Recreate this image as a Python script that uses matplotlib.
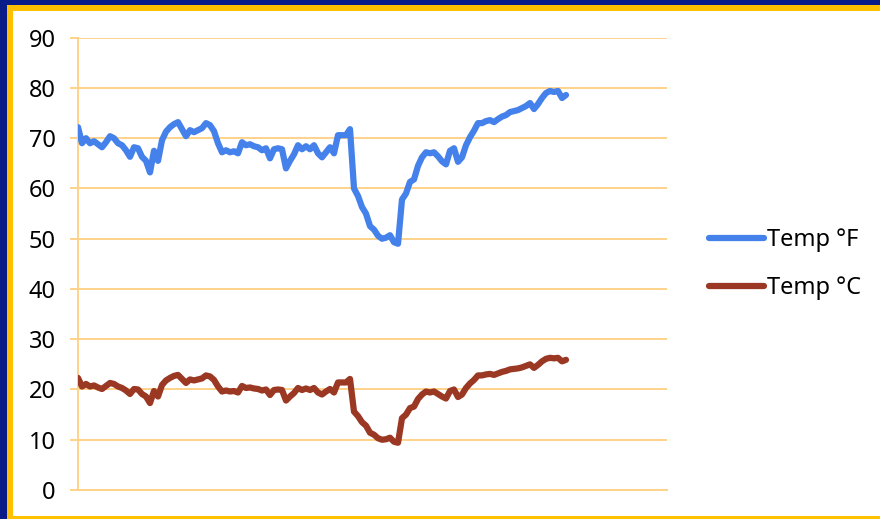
import matplotlib.pyplot as plt
from matplotlib.patches import Rectangle

# readings, one every few minutes
temp_f = [
    72.2, 69.0, 70.0, 69.0, 69.4, 68.8, 68.2, 69.2, 70.4, 70.0,
    69.0, 68.6, 67.6, 66.3, 68.2, 68.0, 66.3, 65.5, 63.2, 67.5,
    65.5, 69.6, 71.3, 72.2, 72.8, 73.2, 71.8, 70.4, 71.6, 71.2,
    71.6, 72.0, 73.0, 72.6, 71.4, 69.0, 67.2, 67.6, 67.2, 67.4,
    67.0, 69.2, 68.6, 68.8, 68.4, 68.2, 67.6, 68.0, 66.0, 67.8,
    68.0, 67.8, 64.0, 65.5, 66.8, 68.6, 67.8, 68.4, 67.8, 68.6,
    67.0, 66.2, 67.2, 68.2, 67.0, 70.6, 70.6, 70.6, 71.8, 60.0,
    58.5, 56.3, 55.0, 52.5, 51.8, 50.6, 50.0, 50.2, 50.7, 49.3,
    49.0, 57.8, 59.0, 61.3, 61.8, 64.5, 66.2, 67.2, 67.0, 67.2,
    66.4, 65.4, 64.8, 67.5, 68.0, 65.3, 66.2, 68.6, 70.2, 71.5,
    73.0, 73.0, 73.4, 73.6, 73.2, 73.8, 74.3, 74.6, 75.2, 75.4,
    75.6, 76.0, 76.4, 77.0, 75.8, 76.8, 78.0, 79.0, 79.4, 79.2,
    79.4, 78.0, 78.6,
]
temp_c = [
    22.3, 20.6, 21.1, 20.6, 20.8, 20.4, 20.1, 20.7, 21.3, 21.1,
    20.6, 20.3, 19.8, 19.1, 20.1, 20.0, 19.1, 18.6, 17.3, 19.7,
    18.6, 20.9, 21.8, 22.3, 22.7, 22.9, 22.1, 21.3, 22.0, 21.8,
    22.0, 22.2, 22.8, 22.6, 21.9, 20.6, 19.6, 19.8, 19.6, 19.7,
    19.4, 20.7, 20.3, 20.4, 20.2, 20.1, 19.8, 20.0, 18.9, 19.9,
    20.0, 19.9, 17.8, 18.6, 19.3, 20.3, 19.9, 20.2, 19.9, 20.3,
    19.4, 19.0, 19.6, 20.1, 19.4, 21.4, 21.4, 21.4, 22.1, 15.6,
    14.7, 13.5, 12.8, 11.4, 11.0, 10.3, 10.0, 10.1, 10.4, 9.6,
    9.4, 14.3, 15.0, 16.3, 16.6, 18.1, 19.0, 19.6, 19.4, 19.6,
    19.1, 18.6, 18.2, 19.7, 20.0, 18.5, 19.0, 20.3, 21.2, 21.9,
    22.8, 22.8, 23.0, 23.1, 22.9, 23.2, 23.5, 23.7, 24.0, 24.1,
    24.2, 24.4, 24.7, 25.0, 24.3, 24.9, 25.6, 26.1, 26.3, 26.2,
    26.3, 25.6, 25.9,
]
yticks = [0, 10, 20, 30, 40, 50, 60, 70, 80, 90]
n_slots = 147.25

W, H = 880, 519
fig = plt.figure(figsize=(W / 100, H / 100), dpi=100)
fig.patch.set_facecolor('#0A1C88')

# frame: navy outside, gold border, white panel
bg = fig.add_axes([0, 0, 1, 1], zorder=-10)
bg.set_axis_off()
bg.set_xlim(0, W)
bg.set_ylim(H, 0)
bg.add_patch(Rectangle((7, 5), W, H, facecolor='#FFC000', edgecolor='none'))
bg.add_patch(Rectangle((13, 11), W, 505, facecolor='white', edgecolor='none'))

grid_col = '#FDD28A'
ax = fig.add_axes([78 / W, 29 / H, (667 - 78) / W, (490 - 37.7) / H], zorder=1)
ax.set_facecolor('none')

x = list(range(len(temp_f)))
ax.plot(x, temp_f, color='#4581EA', lw=4.5, solid_capstyle='round',
        solid_joinstyle='round', label='Temp °F', zorder=3)
ax.plot(x, temp_c, color='#9A3823', lw=4.5, solid_capstyle='round',
        solid_joinstyle='round', label='Temp °C', zorder=3)

ax.set_xlim(0, n_slots)
ax.set_ylim(0, 90)
ax.set_yticks(yticks)
ax.set_xticks([])
ax.yaxis.grid(True, color=grid_col, lw=1.4)
ax.set_axisbelow(True)
for s in ['top', 'right']:
    ax.spines[s].set_visible(False)
ax.spines['left'].set_color(grid_col)
ax.spines['left'].set_linewidth(1.4)
ax.spines['bottom'].set_color(grid_col)
ax.spines['bottom'].set_linewidth(1.4)
ax.tick_params(axis='y', length=6, width=1.4, color=grid_col, pad=10,
               labelsize=17, labelcolor='black')
for lab in ax.get_yticklabels():
    lab.set_fontfamily('Noto Sans')

leg = fig.legend(loc='center left', bbox_to_anchor=(688 / W, (H - 264) / H),
                 frameon=False, handlelength=2.3, handletextpad=0.15,
                 labelspacing=1.0, prop={'family': 'Noto Sans', 'size': 17})

fig.savefig('out.png', dpi=100, facecolor=fig.get_facecolor())
